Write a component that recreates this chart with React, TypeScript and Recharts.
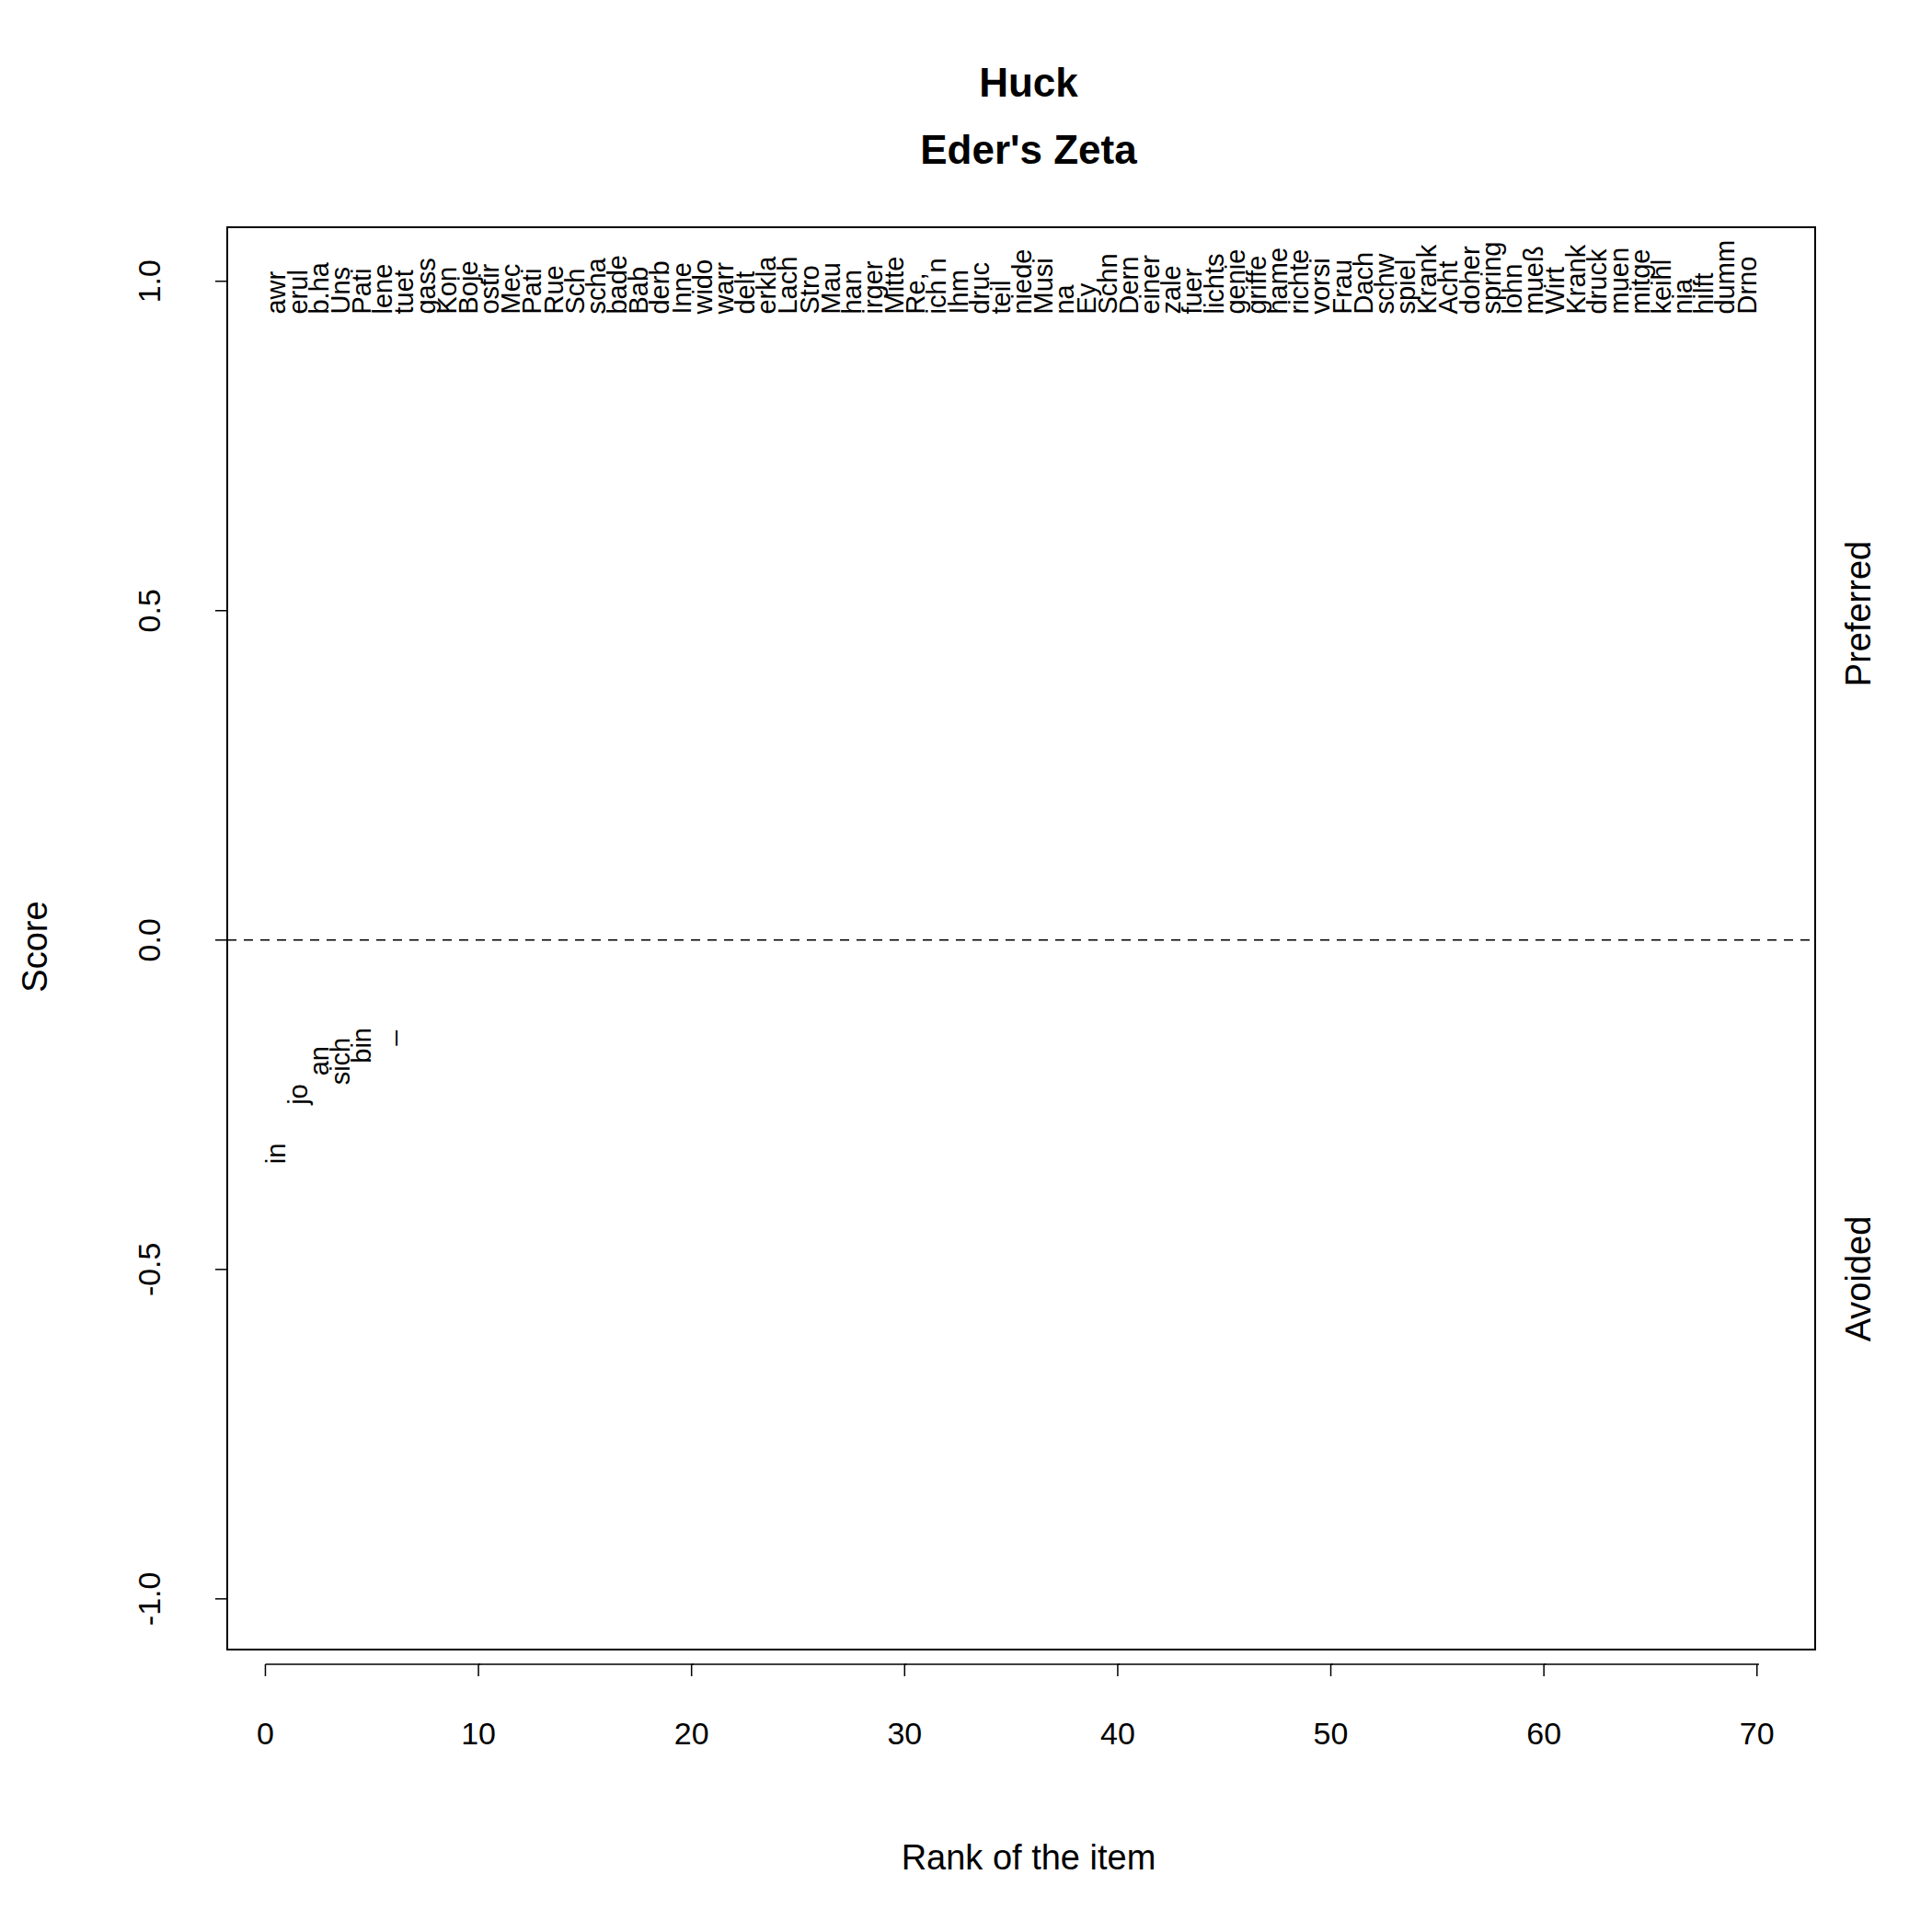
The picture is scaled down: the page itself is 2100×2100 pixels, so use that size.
import { ScatterChart, Scatter, XAxis, YAxis, ReferenceLine, ReferenceArea } from "recharts";

const preferredWords = [
  "awr", "erul", "b.ha", "Uns", "Pati", "lene", "tuet", "gass", "Kon", "Boje",
  "ostir", "Mec", "Pati", "Rue", "Sch", "scha", "bade", "Bab", "derb", "Inne",
  "wido", "warr", "delt", "erkla", "Lach", "Stro", "Mau", "han", "irger", "Mitte",
  "Re,", "ich n", "Ihm", "druc", "teil", "niede", "Musi", "na", "Ey", "Schn",
  "Dern", "einer", "zale", "fuer", "lichts", "genie", "griffe", "hame", "richte", "vorsi",
  "Frau", "Dach", "schw", "spiel", "Krank", "Acht", "doher", "spring", "lohn", "mueß",
  "Wirt", "Krank", "druck", "muen", "mitge", "keihl", "nia", "hilft", "dumm", "Drno",
];
const preferredScores = preferredWords.map(() => 1);

const avoidedWords = ["in", "jo", "an", "sich", "bin", "_"];
const avoidedScores = [-0.29, -0.2, -0.156, -0.17, -0.137, -0.11];

const xTicks = [0, 10, 20, 30, 40, 50, 60, 70];
const yTicks = [-1, -0.5, 0, 0.5, 1];

const FONT = "'Liberation Sans', Arial, sans-serif";
const PX_PER_Y = 716;
const PX_PER_X = 23.38;

const prefData = preferredWords.map((w, i) => ({ x: i + 0.5, y: preferredScores[i], label: w }));
const avoidData = avoidedWords.map((w, i) => ({ x: i + 0.5, y: avoidedScores[i], label: w }));

const WordShape = (props: any) => {
  const { cx, cy, payload } = props;
  const y0 = cy + 0.05 * PX_PER_Y;
  return (
    <text
      x={cx}
      y={y0}
      transform={`rotate(-90 ${cx} ${y0})`}
      dy="0.36em"
      textAnchor="start"
      fontSize={29}
      fontFamily={FONT}
      fill="#000"
    >
      {payload.label}
    </text>
  );
};

const XTick = (props: any) => {
  const { x, y, payload } = props;
  const top = y + 8;
  return (
    <g>
      {payload.value < 70 && (
        <line x1={x} x2={x + 10 * PX_PER_X} y1={top} y2={top} stroke="#000" strokeWidth={1.5} />
      )}
      <line x1={x} x2={x} y1={top} y2={top + 13} stroke="#000" strokeWidth={1.5} />
      <text x={x} y={top + 87} textAnchor="middle" fontSize={34} fontFamily={FONT} fill="#000">
        {payload.value}
      </text>
    </g>
  );
};

const YTick = (props: any) => {
  const { y, payload } = props;
  const right = 247;
  const label = payload.value.toFixed(1);
  return (
    <g>
      {payload.value > -1 && (
        <line x1={right} x2={right} y1={y} y2={y + 0.5 * PX_PER_Y} stroke="#000" strokeWidth={1.5} />
      )}
      <line x1={right - 13} x2={right} y1={y} y2={y} stroke="#000" strokeWidth={1.5} />
      <text
        x={162}
        y={y}
        transform={`rotate(-90 162 ${y})`}
        dy="0.36em"
        textAnchor="middle"
        fontSize={34}
        fontFamily={FONT}
        fill="#000"
      >
        {label}
      </text>
    </g>
  );
};

const abs = (style: any) => ({ position: "absolute" as const, fontFamily: FONT, color: "#000", ...style });

export default function App() {
  return (
    <div style={{ position: "absolute", left: 0, top: 0, width: 2100, height: 2100, background: "#fff" }}>
      <ScatterChart width={2100} height={2100} margin={{ top: 247, right: 127, bottom: 0, left: 0 }}>
        <XAxis
          type="number"
          dataKey="x"
          domain={[-1.79, 72.73]}
          ticks={xTicks}
          allowDataOverflow
          axisLine={false}
          tickLine={false}
          tick={<XTick />}
          height={307}
          interval={0}
        />
        <YAxis
          type="number"
          dataKey="y"
          domain={[-1.077, 1.082]}
          ticks={yTicks}
          allowDataOverflow
          axisLine={false}
          tickLine={false}
          tick={<YTick />}
          width={247}
          interval={0}
        />
        <ReferenceLine y={0} stroke="#000" strokeWidth={1.5} strokeDasharray="10 8" />
        <ReferenceArea x1={-1.79} x2={72.73} y1={-1.077} y2={1.082} stroke="#000" strokeWidth={2} fill="none" fillOpacity={0} />
        <Scatter data={prefData} shape={<WordShape />} isAnimationActive={false} />
        <Scatter data={avoidData} shape={<WordShape />} isAnimationActive={false} />
      </ScatterChart>
      <div style={abs({ left: 0, width: 2236, top: 53, textAlign: "center", fontSize: 44, fontWeight: "bold", lineHeight: "73px" })}>
        Huck
        <br />
        Eder's Zeta
      </div>
      <div style={abs({ left: 0, width: 2236, top: 1998, textAlign: "center", fontSize: 38 })}>Rank of the item</div>
      <div style={abs({ left: 38, top: 1029, fontSize: 38, transform: "translate(-50%, -50%) rotate(-90deg)", whiteSpace: "nowrap" })}>Score</div>
      <div style={abs({ left: 2020, top: 667, fontSize: 38, transform: "translate(-50%, -50%) rotate(-90deg)", whiteSpace: "nowrap" })}>Preferred</div>
      <div style={abs({ left: 2020, top: 1390, fontSize: 38, transform: "translate(-50%, -50%) rotate(-90deg)", whiteSpace: "nowrap" })}>Avoided</div>
    </div>
  );
}
